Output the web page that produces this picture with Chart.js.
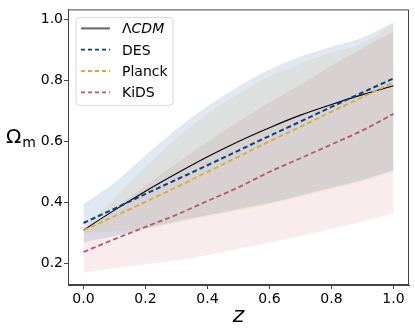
<!DOCTYPE html>
<html>
<head>
<meta charset="utf-8">
<script src="https://cdn.jsdelivr.net/npm/chart.js@4.4.0/dist/chart.umd.min.js"></script>
<style>
  html, body { margin: 0; padding: 0; background: #fff; }
  #wrap { width: 415px; height: 332px; }
</style>
</head>
<body>
<div id="wrap"><canvas id="chart" width="415" height="332"></canvas></div>
<script>
// Redshift grid
const zVals = [0.0, 0.1, 0.2, 0.3, 0.4, 0.5, 0.6, 0.7, 0.8, 0.9, 1.0];

// Omega_m(z) curves
const lcdm = [0.310, 0.375, 0.437, 0.495, 0.550, 0.600, 0.645, 0.686, 0.721, 0.753, 0.782];
const desMean = [0.333, 0.380, 0.428, 0.475, 0.522, 0.570, 0.618, 0.665, 0.713, 0.760, 0.806];
const planckMean = [0.309, 0.355, 0.402, 0.450, 0.500, 0.550, 0.600, 0.648, 0.697, 0.745, 0.793];
const kidsMean = [0.238, 0.280, 0.320, 0.360, 0.405, 0.450, 0.500, 0.545, 0.590, 0.636, 0.690];

// Uncertainty bands
const desHigh = [0.395, 0.465, 0.555, 0.640, 0.715, 0.780, 0.835, 0.878, 0.910, 0.940, 0.990];
const desLow = [0.270, 0.290, 0.315, 0.338, 0.358, 0.378, 0.398, 0.423, 0.448, 0.474, 0.505];
const planckHigh = [0.315, 0.415, 0.515, 0.610, 0.690, 0.755, 0.812, 0.855, 0.890, 0.920, 0.985];
const planckLow = [0.300, 0.305, 0.313, 0.333, 0.353, 0.373, 0.393, 0.418, 0.443, 0.468, 0.500];
const kidsHigh = [0.308, 0.380, 0.455, 0.528, 0.598, 0.665, 0.728, 0.785, 0.848, 0.905, 0.960];
const kidsLow = [0.170, 0.185, 0.198, 0.210, 0.228, 0.248, 0.268, 0.290, 0.313, 0.338, 0.365];

const seriesLabels = ["ΛCDM", "DES", "Planck", "KiDS"];
const yTicks = [0.2, 0.4, 0.6, 0.8, 1.0];
const xTicks = [0.0, 0.2, 0.4, 0.6, 0.8, 1.0];

const BLUE = "#004488", YELLOW = "#DDAA33", RED = "#BB5566";

function pts(arr) {
  return zVals.map((z, i) => ({ x: z, y: arr[i] }));
}

function band(arr, color, fillTo) {
  return {
    data: pts(arr), borderWidth: 0, pointRadius: 0, borderColor: "transparent",
    backgroundColor: color, fill: fillTo, cubicInterpolationMode: "monotone", order: 5
  };
}

function line(label, arr, color, dash, width) {
  return {
    label: label, data: pts(arr), borderColor: color, borderWidth: width,
    borderDash: dash, pointRadius: 0, fill: false, cubicInterpolationMode: "monotone", order: 0
  };
}

const datasets = [
  band(desHigh, "rgba(0,68,136,0.12)", "+1"),
  band(desLow, "transparent", false),
  band(planckHigh, "rgba(221,170,51,0.11)", "+1"),
  band(planckLow, "transparent", false),
  band(kidsHigh, "rgba(187,85,102,0.11)", "+1"),
  band(kidsLow, "transparent", false),
  line(seriesLabels[1], desMean, BLUE, [5, 3], 2),
  line(seriesLabels[2], planckMean, YELLOW, [5, 3], 1.8),
  line(seriesLabels[3], kidsMean, RED, [5, 3], 1.8),
  line(seriesLabels[0], lcdm, "#000", [], 1.1)
];

// frame, axis titles and legend box drawn in matplotlib style
const decorations = {
  id: "decorations",
  afterDraw(chart) {
    const ctx = chart.ctx;
    const a = chart.chartArea;
    ctx.save();
    ctx.strokeStyle = "#444";
    ctx.lineWidth = 1;
    ctx.strokeRect(a.left + 0.5, a.top + 0.5, a.right - a.left - 1, a.bottom - a.top - 1);

    // axis titles
    ctx.fillStyle = "#000";
    ctx.textBaseline = "alphabetic";
    ctx.textAlign = "left";
    ctx.font = "20px 'DejaVu Sans'";
    ctx.fillText("Ω", 6, 143);
    const w = ctx.measureText("Ω").width;
    ctx.font = "14px 'DejaVu Sans'";
    ctx.fillText("m", 6 + w + 1, 147);
    ctx.textAlign = "center";
    ctx.font = "italic 22px 'DejaVu Sans'";
    ctx.fillText("z", (a.left + a.right) / 2, 322);

    // legend
    const lx = a.left + 8, ly = a.top + 8, lw = 97, lh = 88, r = 4;
    ctx.beginPath();
    ctx.moveTo(lx + r, ly);
    ctx.arcTo(lx + lw, ly, lx + lw, ly + lh, r);
    ctx.arcTo(lx + lw, ly + lh, lx, ly + lh, r);
    ctx.arcTo(lx, ly + lh, lx, ly, r);
    ctx.arcTo(lx, ly, lx + lw, ly, r);
    ctx.closePath();
    ctx.fillStyle = "rgba(255,255,255,0.8)";
    ctx.fill();
    ctx.strokeStyle = "#d6d6d6";
    ctx.stroke();

    const entries = [
      { color: "#666", dash: [], width: 2 },
      { color: BLUE, dash: [4, 3], width: 1.8 },
      { color: YELLOW, dash: [4, 3], width: 1.8 },
      { color: RED, dash: [4, 3], width: 1.8 }
    ];
    ctx.textAlign = "left";
    ctx.textBaseline = "alphabetic";
    entries.forEach((e, i) => {
      const cy = ly + 11 + i * 21.3;
      ctx.beginPath();
      ctx.setLineDash(e.dash);
      ctx.strokeStyle = e.color;
      ctx.lineWidth = e.width;
      ctx.moveTo(lx + 5, cy);
      ctx.lineTo(lx + 34, cy);
      ctx.stroke();
      ctx.setLineDash([]);
      ctx.fillStyle = "#000";
      const tx = lx + 46, by = cy + 5;
      if (i === 0) {
        ctx.font = "14px 'DejaVu Sans'";
        ctx.fillText("Λ", tx, by);
        const lw2 = ctx.measureText("Λ").width;
        ctx.font = "italic 14px 'DejaVu Sans'";
        ctx.fillText("CDM", tx + lw2, by);
      } else {
        ctx.font = "14px 'DejaVu Sans'";
        ctx.fillText(seriesLabels[i], tx, by);
      }
    });
    ctx.restore();
  }
};

new Chart(document.getElementById("chart").getContext("2d"), {
  type: "line",
  data: { datasets: datasets },
  options: {
    responsive: false,
    animation: false,
    devicePixelRatio: 1,
    layout: { padding: { left: 0, right: 6, top: 6, bottom: 0 } },
    plugins: {
      legend: { display: false },
      tooltip: { enabled: false },
      filler: { propagate: false }
    },
    scales: {
      x: {
        type: "linear",
        min: -0.05, max: 1.05,
        afterFit: s => { s.height = 47; },
        afterBuildTicks: s => { s.ticks = xTicks.map(v => ({ value: v })); },
        grid: { drawOnChartArea: false, tickLength: 4, color: "#444" },
        border: { color: "#444" },
        ticks: {
          padding: 2, color: "#000",
          font: { family: "DejaVu Sans", size: 14 },
          callback: v => v.toFixed(1)
        }
      },
      y: {
        min: 0.13, max: 1.032,
        afterFit: s => { s.width = 68; },
        afterBuildTicks: s => { s.ticks = yTicks.map(v => ({ value: v })); },
        grid: { drawOnChartArea: false, tickLength: 4, color: "#444" },
        border: { color: "#444" },
        ticks: {
          padding: 1, color: "#000",
          font: { family: "DejaVu Sans", size: 14 },
          callback: v => v.toFixed(1)
        }
      }
    }
  },
  plugins: [decorations]
});
</script>
</body>
</html>
